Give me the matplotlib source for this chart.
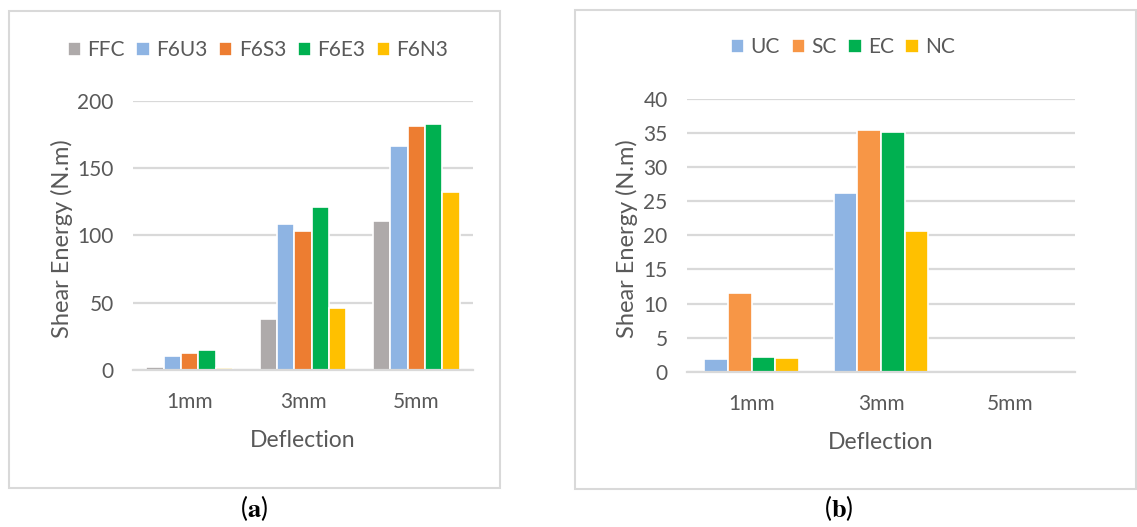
import matplotlib
matplotlib.use("Agg")
import matplotlib.pyplot as plt
import numpy as np
from matplotlib.patches import Rectangle

plt.rcParams["font.family"] = ["Lato", "DejaVu Sans"]
plt.rcParams["mathtext.fontset"] = "stix"

# data
categories = ["1mm", "3mm", "5mm"]

series_a = ["FFC", "F6U3", "F6S3", "F6E3", "F6N3"]
values_a = [
    [2.5, 37.6, 111.0],    # FFC
    [10.4, 108.5, 166.0],  # F6U3
    [12.9, 103.5, 181.3],  # F6S3
    [14.9, 121.0, 182.8],  # F6E3
    [1.2, 45.8, 132.0],    # F6N3
]
colors_a = ["#AEAAAA", "#8EB4E3", "#ED7D31", "#00B050", "#FFC000"]

series_b = ["UC", "SC", "EC", "NC"]
values_b = [
    [1.9, 26.2, 0.0],   # UC
    [11.6, 35.5, 0.0],  # SC
    [2.15, 35.1, 0.0],  # EC
    [2.0, 20.7, 0.0],   # NC
]
colors_b = ["#8EB4E3", "#F79646", "#00B050", "#FFC000"]

TEXT = "#595959"
GRID = "#D9D9D9"
W, H = 1137, 527


def fx(px):
    return px / W


def fy(px):
    return 1 - px / H


def draw_panel(fig, rect, series, values, colors, ymax, step, yticks, legend_pos, ncol, ylab_pos):
    ax = fig.add_axes(rect)
    x = np.arange(len(categories))
    n = len(series)
    for i, (name, vals, col) in enumerate(zip(series, values, colors)):
        offset = (i - (n - 1) / 2) * step
        ax.bar(x + offset, vals, width=step, color=col, edgecolor="white",
               linewidth=1.2, label=name, zorder=3)
    ax.set_xlim(-0.5, len(categories) - 0.5)
    ax.set_ylim(0, ymax)
    ax.set_yticks(yticks)
    ax.set_xticks(x)
    ax.set_xticklabels(categories)
    ax.yaxis.grid(True, color=GRID, linewidth=1.6, zorder=0)
    for side in ["top", "right", "left"]:
        ax.spines[side].set_visible(False)
    ax.spines["bottom"].set_color(GRID)
    ax.spines["bottom"].set_linewidth(1.6)
    ax.spines["bottom"].set_zorder(4)
    ax.tick_params(axis="both", length=0, labelsize=15, labelcolor=TEXT)
    ax.tick_params(axis="x", pad=16)
    ax.tick_params(axis="y", pad=14)
    ax.set_xlabel("Deflection", fontsize=16.5, color=TEXT, labelpad=13)
    # y label placed in figure pixels, like the reference
    fig.text(fx(ylab_pos[0]), fy(ylab_pos[1]), "Shear Energy (N.m)", rotation=90,
             ha="center", va="center", fontsize=17, color=TEXT)
    ax.legend(loc="center", bbox_to_anchor=legend_pos, bbox_transform=fig.transFigure,
              ncol=ncol, frameon=False, fontsize=15, labelcolor=TEXT,
              handlelength=0.65, handleheight=0.65, handletextpad=0.3,
              columnspacing=0.55)
    return ax


fig = plt.figure(figsize=(W / 100, H / 100), dpi=100)

# panel frames
fig.patches.append(Rectangle((fx(9), fy(488)), fx(491), (488 - 11) / H, transform=fig.transFigure,
                             fill=False, edgecolor=GRID, linewidth=1.5))
fig.patches.append(Rectangle((fx(575), fy(489)), fx(561), (489 - 10) / H, transform=fig.transFigure,
                             fill=False, edgecolor=GRID, linewidth=1.5))

draw_panel(fig, [fx(133), fy(370), fx(473 - 133), (370 - 100.7) / H],
           series_a, values_a, colors_a, 200, 0.153, [0, 50, 100, 150, 200],
           (fx(258), fy(50)), 5, (62, 239))
draw_panel(fig, [fx(687), fy(371.7), fx(1075 - 687), (371.7 - 99) / H],
           series_b, values_b, colors_b, 40, 0.183, list(range(0, 41, 5)),
           (fx(843), fy(47)), 4, (627, 239))

fig.text(fx(254), fy(508), r"($\mathbf{a}$)", ha="center", va="center", fontsize=19)
fig.text(fx(839), fy(508), r"($\mathbf{b}$)", ha="center", va="center", fontsize=19)

fig.savefig("out.png", dpi=100)
